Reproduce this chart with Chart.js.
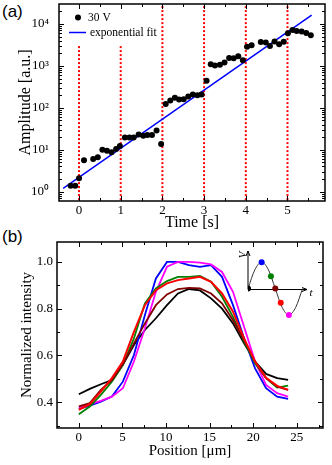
<!DOCTYPE html>
<html>
<head>
<meta charset="utf-8">
<script src="https://cdn.jsdelivr.net/npm/chart.js@4.4.1/dist/chart.umd.min.js"></script>
<style>
  body { margin: 0; width: 332px; height: 465px; background: #fff; position: relative; overflow: hidden; }
  canvas { position: absolute; }
  .panel { position: absolute; font-family: "Liberation Sans", Arial, sans-serif; font-size: 17px; line-height: 20px; }
</style>
</head>
<body>
<div class="panel" style="left:2px; top:2px;">(a)</div>
<div class="panel" style="left:2px; top:227px;">(b)</div>
<canvas id="ampChart" width="332" height="232" style="left:0; top:0;"></canvas>
<canvas id="profileChart" width="332" height="233" style="left:0; top:232px;"></canvas>
<canvas id="insetChart" width="80" height="80" style="left:238px; top:245px;"></canvas>
<script>
// ---- panel (a): amplitude vs time at 30 V ----
var times = [-0.2, -0.09, 0, 0.12, 0.34, 0.45, 0.56, 0.67, 0.78, 0.89, 0.98,
             1.1, 1.21, 1.31, 1.43, 1.54, 1.64, 1.75, 1.86, 1.97,
             2.08, 2.19, 2.3, 2.4, 2.51, 2.62, 2.73, 2.84, 2.94,
             3.06, 3.16, 3.26, 3.38, 3.49, 3.6, 3.71, 3.82, 3.93,
             4.03, 4.14, 4.36, 4.48, 4.58, 4.69, 4.8, 4.91,
             5.01, 5.12, 5.22, 5.34, 5.45, 5.56];
var amplitudes = [1.38, 1.38, 2.1, 5.6, 6.0, 6.6, 10, 9.5, 8.7, 10.5, 12.3,
                  19.5, 19.5, 19.5, 23, 21.7, 22.5, 22.5, 29, 13.8,
                  124, 149, 174, 158, 161, 187, 208, 199, 208,
                  446, 1100, 1030, 1060, 1200, 1550, 1520, 1690, 1370,
                  2850, 3100, 3700, 3600, 3000, 3800, 3300, 3750,
                  6000, 7200, 6800, 6600, 6100, 5400];
var fitTimes = [-0.38, 5.58];
var fitAmplitudes = [1.2, 16300];
var markerTimes = [0, 1, 2, 3, 4, 5];
var markerTops = [3000, 3000, 30000, 30000, 30000, 30000];
var timeTicks = [0, 1, 2, 3, 4, 5];
var ampTicks = [1, 10, 100, 1000, 10000];

// ---- panel (b): normalized intensity profiles ----
var positions = [0, 1.26, 2.53, 3.79, 5.05, 6.32, 7.58, 8.84, 10.11, 11.37,
                 12.63, 13.89, 15.16, 16.42, 17.68, 18.95, 20.21, 21.47, 22.74, 24];
var profileBlack = [0.434, 0.457, 0.477, 0.495, 0.56, 0.645, 0.709, 0.759, 0.815, 0.865,
                    0.884, 0.878, 0.844, 0.80, 0.737, 0.652, 0.574, 0.521, 0.503, 0.496];
var profileBrown = [0.382, 0.396, 0.453, 0.495, 0.562, 0.652, 0.737, 0.815, 0.861, 0.884,
                    0.889, 0.887, 0.865, 0.823, 0.751, 0.666, 0.574, 0.503, 0.467, 0.453];
var profileGreen = [0.349, 0.382, 0.432, 0.488, 0.559, 0.673, 0.823, 0.887, 0.918, 0.936,
                    0.936, 0.940, 0.915, 0.851, 0.765, 0.659, 0.567, 0.503, 0.463, 0.471];
var profileRed = [0.368, 0.392, 0.446, 0.503, 0.574, 0.701, 0.815, 0.879, 0.908, 0.922,
                  0.929, 0.936, 0.915, 0.865, 0.787, 0.673, 0.574, 0.505, 0.470, 0.453];
var profileBlue = [0.372, 0.386, 0.403, 0.424, 0.488, 0.602, 0.773, 0.929, 1.0, 1.0,
                   0.986, 0.979, 0.986, 0.936, 0.815, 0.673, 0.545, 0.460, 0.424, 0.414];
var profileMagenta = [0.377, 0.392, 0.406, 0.424, 0.460, 0.574, 0.716, 0.872, 0.979, 1.0,
                      1.0, 0.997, 0.989, 0.957, 0.872, 0.723, 0.574, 0.474, 0.439, 0.424];
var positionTicks = [0, 5, 10, 15, 20, 25];
var intensityTicks = [0.4, 0.6, 0.8, 1.0];

// ---- inset: drive voltage, one period ----
var wavePhase = [0, 0.125, 0.25, 0.375, 0.5, 0.625, 0.75, 0.875, 1];
var waveValue = [0, 0.71, 1, 0.71, 0, -0.71, -1, -0.71, 0];
var dotPhase = [0, 0.25, 0.42, 0.5, 0.6, 0.75];
var dotValue = [0, 1, 0.47, 0, -0.54, -1];
var dotColors = ['#000000', '#0000ff', '#008000', '#800000', '#ff0000', '#ff00ff'];

var serif = '"Liberation Serif", "Times New Roman", serif';

function pairs(xs, ys) {
    return xs.map(function (x, i) { return { x: x, y: ys[i] }; });
}

// keep the plot box exactly where the padding puts it
function noLabelPadding(s) {
    s.paddingTop = 0;
    s.paddingBottom = 0;
    s.paddingLeft = 0;
    s.paddingRight = 0;
}

// frame box plus inward ticks on all four sides
var frameTicks = {
    id: 'frameTicks',
    afterDraw: function (chart, args, opts) {
        var ctx = chart.ctx, a = chart.chartArea;
        var xs = chart.scales.x, ys = chart.scales.y;
        ctx.save();
        ctx.strokeStyle = '#000';
        ctx.lineWidth = 1;
        ctx.beginPath();
        function tickX(v, len) {
            var p = Math.round(xs.getPixelForValue(v)) + 0.5;
            if (p < a.left || p > a.right) return;
            ctx.moveTo(p, a.bottom); ctx.lineTo(p, a.bottom - len);
            ctx.moveTo(p, a.top); ctx.lineTo(p, a.top + len);
        }
        function tickY(v, len) {
            var p = Math.round(ys.getPixelForValue(v)) + 0.5;
            if (p < a.top || p > a.bottom) return;
            ctx.moveTo(a.left, p); ctx.lineTo(a.left + len, p);
            ctx.moveTo(a.right, p); ctx.lineTo(a.right - len, p);
        }
        opts.xMajor.forEach(function (v) { tickX(v, 5); });
        opts.xMinor.forEach(function (v) { tickX(v, 3); });
        opts.yMajor.forEach(function (v) { tickY(v, 5); });
        opts.yMinor.forEach(function (v) { tickY(v, 3); });
        ctx.stroke();
        ctx.lineWidth = 1.5;
        ctx.strokeRect(a.left, a.top, a.right - a.left, a.bottom - a.top);
        ctx.restore();
    }
};

// legend sitting inside the plot of panel (a)
var insideLegend = {
    id: 'insideLegend',
    afterDraw: function (chart) {
        var ctx = chart.ctx;
        ctx.save();
        ctx.font = '11.5px ' + serif;
        ctx.textBaseline = 'middle';
        ctx.fillStyle = '#000';
        ctx.beginPath();
        ctx.arc(78, 17.5, 3, 0, Math.PI * 2);
        ctx.fill();
        ctx.fillText(chart.data.datasets[0].label, 88, 18);
        ctx.strokeStyle = '#0000ff';
        ctx.lineWidth = 1.5;
        ctx.beginPath();
        ctx.moveTo(69, 32.5);
        ctx.lineTo(86, 32.5);
        ctx.stroke();
        ctx.fillText(chart.data.datasets[1].label, 90, 32.5);
        ctx.restore();
    }
};

var sup = { 0: '\u2070', 1: '\u00b9', 2: '\u00b2', 3: '\u00b3', 4: '\u2074' };

// minor ticks
var timeMinor = [0.5, 1.5, 2.5, 3.5, 4.5, 5.5];
var ampMinor = [];
for (var d = -1; d <= 4; d++) {
    for (var m = 2; m <= 9; m++) {
        var v = m * Math.pow(10, d);
        if (v > 0.63 && v < 30000) ampMinor.push(v);
    }
}

// Create the amplitude chart
var markerSets = markerTimes.map(function (t, i) {
    return {
        data: [{ x: t, y: 0.63 }, { x: t, y: markerTops[i] }],
        showLine: true,
        borderColor: '#ff0000',
        borderWidth: 2,
        borderDash: [2, 2],
        pointRadius: 0
    };
});

new Chart(document.getElementById('ampChart'), {
    type: 'scatter',
    data: {
        datasets: [{
            label: '30 V',
            data: pairs(times, amplitudes),
            pointRadius: 3,
            pointBackgroundColor: '#000',
            pointBorderWidth: 0,
            showLine: false
        }, {
            label: 'exponential fit',
            data: pairs(fitTimes, fitAmplitudes),
            showLine: true,
            borderColor: '#0000ff',
            borderWidth: 1.5,
            pointRadius: 0
        }].concat(markerSets)
    },
    options: {
        responsive: false,
        animation: false,
        devicePixelRatio: 1,
        layout: { padding: { top: 4, right: 7, left: 0, bottom: 0 } },
        plugins: {
            legend: { display: false },
            tooltip: { enabled: false },
            frameTicks: { xMajor: timeTicks, xMinor: timeMinor, yMajor: ampTicks, yMinor: ampMinor }
        },
        scales: {
            x: {
                type: 'linear',
                min: -0.48,
                max: 5.9,
                grid: { display: false, drawTicks: false },
                border: { display: false },
                afterBuildTicks: function (s) { s.ticks = timeTicks.map(function (v) { return { value: v }; }); },
                afterFit: function (s) { s.height = 31; noLabelPadding(s); },
                ticks: { font: { family: serif, size: 13 }, color: '#000', padding: 2, maxRotation: 0 },
                title: { display: true, text: 'Time [s]', color: '#000', font: { family: serif, size: 16 }, padding: { top: 0, bottom: 0 } }
            },
            y: {
                type: 'logarithmic',
                min: 0.63,
                max: 30000,
                grid: { display: false, drawTicks: false },
                border: { display: false },
                afterBuildTicks: function (s) { s.ticks = ampTicks.map(function (v) { return { value: v }; }); },
                afterFit: function (s) { s.width = 59; noLabelPadding(s); },
                ticks: {
                    font: { family: serif, size: 13 },
                    color: '#000',
                    padding: 10,
                    callback: function (value) { return '10' + sup[Math.round(Math.log10(value))]; }
                },
                title: { display: true, text: 'Amplitude [a.u.]', color: '#000', font: { family: serif, size: 16 }, padding: { top: 16, bottom: 0 } }
            }
        }
    },
    plugins: [frameTicks, insideLegend]
});

// Create the intensity profile chart
var profiles = [
    { values: profileRed, color: '#ff0000', width: 2 },
    { values: profileBrown, color: '#800000', width: 1.8 },
    { values: profileGreen, color: '#008000', width: 1.8 },
    { values: profileMagenta, color: '#ff00ff', width: 1.8 },
    { values: profileBlue, color: '#0000ff', width: 1.8 },
    { values: profileBlack, color: '#000000', width: 1.8 }
];

new Chart(document.getElementById('profileChart'), {
    type: 'scatter',
    data: {
        datasets: profiles.map(function (p) {
            return {
                data: pairs(positions, p.values),
                showLine: true,
                borderColor: p.color,
                borderWidth: p.width,
                pointRadius: 0
            };
        })
    },
    options: {
        responsive: false,
        animation: false,
        devicePixelRatio: 1,
        layout: { padding: { top: 10, right: 9, left: 0, bottom: 0 } },
        plugins: {
            legend: { display: false },
            tooltip: { enabled: false },
            frameTicks: {
                xMajor: positionTicks, xMinor: [2.5, 7.5, 12.5, 17.5, 22.5, 27.5],
                yMajor: intensityTicks, yMinor: [0.3, 0.5, 0.7, 0.9]
            }
        },
        scales: {
            x: {
                type: 'linear',
                min: -2.5,
                max: 28,
                grid: { display: false, drawTicks: false },
                border: { display: false },
                afterBuildTicks: function (s) { s.ticks = positionTicks.map(function (v) { return { value: v }; }); },
                afterFit: function (s) { s.height = 37; noLabelPadding(s); },
                ticks: { font: { family: serif, size: 13 }, color: '#000', padding: 2, maxRotation: 0 },
                title: { display: true, text: 'Position [\u03bcm]', color: '#000', font: { family: serif, size: 15 }, padding: { top: 0, bottom: 5 } }
            },
            y: {
                type: 'linear',
                min: 0.29,
                max: 1.085,
                grid: { display: false, drawTicks: false },
                border: { display: false },
                afterBuildTicks: function (s) { s.ticks = intensityTicks.map(function (v) { return { value: v }; }); },
                afterFit: function (s) { s.width = 57; noLabelPadding(s); },
                ticks: {
                    font: { family: serif, size: 13 },
                    color: '#000',
                    padding: 4,
                    callback: function (value) { return value.toFixed(1); }
                },
                title: { display: true, text: 'Normalized intensity', color: '#000', font: { family: serif, size: 15 }, padding: { top: 18, bottom: 0 } }
            }
        }
    },
    plugins: [frameTicks]
});

// axes with arrows for the inset
var insetAxes = {
    id: 'insetAxes',
    beforeDatasetsDraw: function (chart) {
        var ctx = chart.ctx, a = chart.chartArea;
        var x0 = chart.scales.x.getPixelForValue(0);
        var y0 = Math.round(chart.scales.y.getPixelForValue(0)) + 0.5;
        var yTop = a.top + 2, xEnd = a.right - 7;
        ctx.save();
        ctx.strokeStyle = '#000';
        ctx.lineWidth = 1;
        ctx.beginPath();
        ctx.moveTo(x0, y0); ctx.lineTo(x0, yTop);
        ctx.moveTo(x0, y0); ctx.lineTo(xEnd, y0);
        ctx.moveTo(x0 - 2, yTop + 5); ctx.lineTo(x0, yTop); ctx.lineTo(x0 + 2, yTop + 5);
        ctx.moveTo(xEnd - 5, y0 - 2); ctx.lineTo(xEnd, y0); ctx.lineTo(xEnd - 5, y0 + 2);
        ctx.stroke();
        ctx.fillStyle = '#000';
        ctx.font = 'italic 11px ' + serif;
        ctx.textAlign = 'center';
        ctx.textBaseline = 'middle';
        ctx.fillText('t', xEnd + 4, y0 + 4);
        ctx.translate(x0 - 5, yTop + 4);
        ctx.rotate(-Math.PI / 2);
        ctx.fillText('V', 0, 0);
        ctx.restore();
    }
};

new Chart(document.getElementById('insetChart'), {
    type: 'scatter',
    data: {
        datasets: [{
            data: pairs(dotPhase, dotValue),
            pointRadius: 3,
            pointBackgroundColor: dotColors,
            pointBorderWidth: 0,
            showLine: false
        }, {
            data: pairs(wavePhase, waveValue),
            showLine: true,
            cubicInterpolationMode: 'monotone',
            borderColor: '#333',
            borderWidth: 1,
            pointRadius: 0
        }]
    },
    options: {
        responsive: false,
        animation: false,
        devicePixelRatio: 1,
        layout: { padding: { left: 10, top: 0, right: 0, bottom: 0 } },
        plugins: { legend: { display: false }, tooltip: { enabled: false } },
        scales: {
            x: { type: 'linear', min: 0, max: 1.21, display: false },
            y: { type: 'linear', min: -1.23, max: 1.5, display: false }
        }
    },
    plugins: [insetAxes]
});
</script>
</body>
</html>
